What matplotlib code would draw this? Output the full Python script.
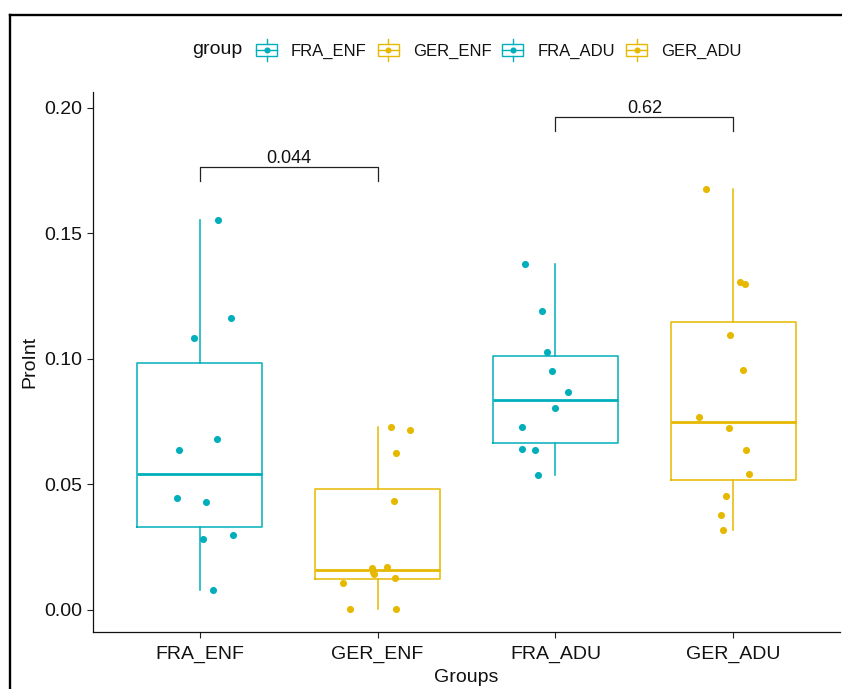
import matplotlib
matplotlib.use('Agg')
import matplotlib.pyplot as plt
from matplotlib.patches import Rectangle
from matplotlib.lines import Line2D
from matplotlib.legend_handler import HandlerBase

plt.rcParams['font.family'] = ['Liberation Sans', 'DejaVu Sans']

# ---------------- data ----------------
groups = ['FRA_ENF', 'GER_ENF', 'FRA_ADU', 'GER_ADU']
group_colors = ['#00AFBB', '#E7B800', '#00AFBB', '#E7B800']

fra_enf = [0.1550, 0.1162, 0.1083, 0.0680, 0.0636, 0.0443, 0.0430, 0.0296, 0.0282, 0.0078]
ger_enf = [0.0729, 0.0714, 0.0625, 0.0434, 0.0169, 0.0165, 0.0150, 0.0141, 0.0125, 0.0105, 0.0002, 0.0002]
fra_adu = [0.1377, 0.1190, 0.1028, 0.0949, 0.0866, 0.0802, 0.0729, 0.0640, 0.0635, 0.0537]
ger_adu = [0.1677, 0.1304, 0.1298, 0.1093, 0.0955, 0.0769, 0.0724, 0.0636, 0.0538, 0.0454, 0.0376, 0.0316]

# horizontal jitter offsets (category units)
jit_fra_enf = [0.105, 0.174, -0.030, 0.097, -0.115, -0.128, 0.034, 0.189, 0.019, 0.077]
jit_ger_enf = [0.075, 0.180, 0.102, 0.092, 0.053, -0.033, -0.026, -0.020, 0.096, -0.193, -0.157, 0.103]
jit_fra_adu = [-0.171, -0.074, -0.046, -0.018, 0.072, -0.004, -0.188, -0.188, -0.115, -0.097]
jit_ger_adu = [-0.152, 0.035, 0.065, -0.019, 0.052, -0.195, -0.026, 0.073, 0.086, -0.040, -0.068, -0.060]

# comparisons: (group a, group b, label)
comparisons = [('FRA_ENF', 'GER_ENF', '0.044'), ('FRA_ADU', 'GER_ADU', '0.62')]
bracket_y = [0.1764, 0.1964]

values = [fra_enf, ger_enf, fra_adu, ger_adu]
jitters = [jit_fra_enf, jit_ger_enf, jit_fra_adu, jit_ger_adu]

# ---------------- figure ----------------
W, H = 842, 689
fig = plt.figure(figsize=(W / 100, H / 100), dpi=100)
ax = fig.add_axes([93 / W, 1 - 632 / H, (840 - 93) / W, (632 - 92) / H])

positions = list(range(1, len(groups) + 1))
bp = ax.boxplot(values, positions=positions, widths=0.7, whis=1.5,
                showfliers=False, showcaps=False, patch_artist=False)
for i, col in enumerate(group_colors):
    bp['boxes'][i].set(color=col, linewidth=1.1)
    bp['medians'][i].set(color=col, linewidth=2.0)
    for w in bp['whiskers'][2 * i:2 * i + 2]:
        w.set(color=col, linewidth=1.1)

for i, (vals, jit, col) in enumerate(zip(values, jitters, group_colors)):
    xs = [positions[i] + j for j in jit]
    ax.scatter(xs, vals, s=26, color=col, linewidths=0, zorder=3)

tip = 0.0056
for (a, b, lab), yb in zip(comparisons, bracket_y):
    xa = positions[groups.index(a)]
    xb = positions[groups.index(b)]
    ax.plot([xa, xa, xb, xb], [yb - tip, yb, yb, yb - tip], color='#222222', lw=0.9)
    ax.text((xa + xb) / 2, yb + 0.0016, lab, ha='center', va='baseline',
            fontsize=13, color='#111111')

ax.set_xlim(0.4, 4.6)
ax.set_ylim(-0.00896, 0.2062)
ax.set_xticks(positions)
ax.set_xticklabels(groups)
yt = [0.00, 0.05, 0.10, 0.15, 0.20]
ax.set_yticks(yt)
ax.set_yticklabels([f'{v:.2f}' for v in yt])
ax.tick_params(axis='both', labelsize=14, length=4.5, width=0.8, color='#222222',
               labelcolor='#111111', pad=3.5)
ax.tick_params(axis='x', pad=5.5)
for s in ['top', 'right']:
    ax.spines[s].set_visible(False)
for s in ['left', 'bottom']:
    ax.spines[s].set_linewidth(0.9)
    ax.spines[s].set_color('#111111')

ax.set_xlabel('Groups', fontsize=14, color='#111111')
ax.set_ylabel('ProInt', fontsize=14, color='#111111')
ax.xaxis.set_label_coords(0.5, (632 - 678) / 540)
ax.xaxis.label.set_va('center')
ax.yaxis.set_label_coords((30 - 93) / 747, 0.5)
ax.yaxis.label.set_va('center')


# ---------------- legend ----------------
class BoxHandler(HandlerBase):
    def create_artists(self, legend, orig_handle, xdescent, ydescent,
                       width, height, fontsize, trans):
        col = orig_handle.get_color()
        x0, y0 = -xdescent, -ydescent
        rect = Rectangle((x0 + 0.04 * width, y0 + 0.2 * height), 0.92 * width,
                         0.6 * height, fill=False, ec=col, lw=1.0, transform=trans)
        med = Line2D([x0 + 0.04 * width, x0 + 0.96 * width], [y0 + 0.5 * height] * 2,
                     color=col, lw=1.0, transform=trans)
        w1 = Line2D([x0 + 0.5 * width] * 2, [y0, y0 + 0.2 * height],
                    color=col, lw=1.0, transform=trans)
        w2 = Line2D([x0 + 0.5 * width] * 2, [y0 + 0.8 * height, y0 + height],
                    color=col, lw=1.0, transform=trans)
        pt = Line2D([x0 + 0.5 * width], [y0 + 0.5 * height], marker='o', ms=4.4,
                    color=col, mew=0, linestyle='none', transform=trans)
        return [rect, med, w1, w2, pt]


handles = [Line2D([], [], color=c) for c in group_colors]
fig.text(192 / W, 1 - 50 / H, 'group', ha='left', va='center', fontsize=14, color='#111111')
fig.legend(handles, groups, handler_map={Line2D: BoxHandler()},
           loc='center left', bbox_to_anchor=(255 / W, 1 - 50 / H),
           bbox_transform=fig.transFigure, ncol=4, frameon=False, fontsize=12,
           handlelength=1.38, handleheight=1.6, handletextpad=0.78,
           columnspacing=0.6, borderpad=0, borderaxespad=0, labelcolor='#111111')

# screenshot frame lines
fig.add_artist(Line2D([10 / W, 1], [1 - 14.5 / H] * 2, transform=fig.transFigure,
                      color='black', lw=1.7))
fig.add_artist(Line2D([10 / W] * 2, [0, 1 - 14.5 / H], transform=fig.transFigure,
                      color='black', lw=1.7))

fig.savefig('out.png', dpi=100)
